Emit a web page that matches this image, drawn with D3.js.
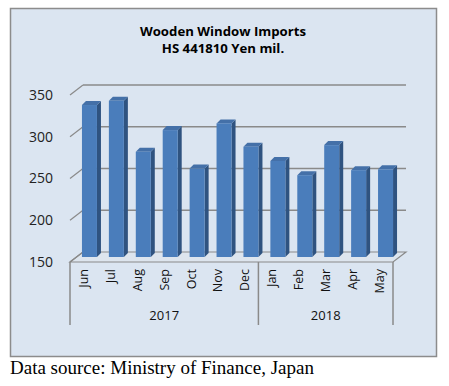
<!DOCTYPE html>
<html>
<head>
<meta charset="utf-8">
<script src="https://cdn.jsdelivr.net/npm/d3@7"></script>
<style>
  body { margin: 0; background: #fff; }
  text { font-family: "Open Sans", "Liberation Sans", sans-serif; }
</style>
</head>
<body>
<div id="chart"></div>
<script>
let months = ["Jun","Jul","Aug","Sep","Oct","Nov","Dec","Jan","Feb","Mar","Apr","May"];
let years = ["2017", "2018"];
let yearOfMonth = [0,0,0,0,0,0,0,1,1,1,1,1];
let values = [332, 337, 276, 302, 256, 310, 282, 265, 248, 284, 254, 255];
let yTicks = [150, 200, 250, 300, 350];

let svg = d3.select("#chart")
    .append("svg")
    .attr("width", 449)
    .attr("height", 386);

// chart area
svg.append("rect")
    .attr("x", 10.5).attr("y", 8.5)
    .attr("width", 426).attr("height", 348)
    .attr("fill", "#dbe5f1")
    .attr("stroke", "#8c8c8c")
    .attr("stroke-width", 1.5);

svg.append("text")
    .attr("x", 223).attr("y", 36)
    .attr("text-anchor", "middle")
    .attr("font-size", 13.2).attr("font-weight", "bold")
    .text("Wooden Window Imports");
svg.append("text")
    .attr("x", 223).attr("y", 53)
    .attr("text-anchor", "middle")
    .attr("font-size", 13.2).attr("font-weight", "bold")
    .text("HS 441810 Yen mil.");

let x = d3.scaleBand()
    .domain(months)
    .range([70, 393]);

let y = d3.scaleLinear()
    .domain([150, 350])
    .range([262, 95]);

// depth of the 3d box
let dx = 13, dy = -10;
let gridColor = "#8a8a8a";

// floor
svg.append("path")
    .attr("d", `M70,262 L393,262 L${393+dx},${262+dy} L${70+dx},${262+dy} Z`)
    .attr("fill", "#dde5ee")
    .attr("stroke", gridColor)
    .attr("stroke-width", 1.2);

// back wall gridlines + little left wall ticks
yTicks.forEach(t => {
    if (t > 150) {
        svg.append("line")
            .attr("x1", 70 + dx).attr("y1", y(t) + dy)
            .attr("x2", 393 + dx).attr("y2", y(t) + dy)
            .attr("stroke", gridColor)
            .attr("stroke-width", 1.5);
    }
    svg.append("line")
        .attr("x1", 70).attr("y1", y(t))
        .attr("x2", 70 + dx).attr("y2", y(t) + dy)
        .attr("stroke", gridColor)
        .attr("stroke-width", 1.2);
    svg.append("text")
        .attr("x", 53).attr("y", y(t))
        .attr("dy", "0.35em")
        .attr("text-anchor", "end")
        .attr("font-size", 14)
        .attr("fill", "#222")
        .text(t);
});

// bars
let barW = 15, sideDx = 4, sideDy = -4;
let bx = d => x(d) + x.bandwidth() / 2 - barW / 2 + 6;
let base = y(150) - 5;

let bars = svg.append("g").selectAll("g")
    .data(values)
    .enter()
    .append("g");

// side face
bars.append("path")
    .attr("d", (d, i) => {
        let x0 = bx(months[i]) + barW, top = y(d) - 5;
        return `M${x0},${base} L${x0},${top} L${x0+sideDx},${top+sideDy} L${x0+sideDx},${base+sideDy} Z`;
    })
    .attr("fill", "#2f5380");

// top face
bars.append("path")
    .attr("d", (d, i) => {
        let x0 = bx(months[i]), top = y(d) - 5;
        return `M${x0},${top} L${x0+barW},${top} L${x0+barW+sideDx},${top+sideDy} L${x0+sideDx},${top+sideDy} Z`;
    })
    .attr("fill", "#4470a8");

// front face
bars.append("rect")
    .attr("x", (d, i) => bx(months[i]))
    .attr("y", d => y(d) - 5)
    .attr("width", barW)
    .attr("height", d => base - (y(d) - 5))
    .attr("fill", "#4a7dbb");

// category axis
let axisBottom = 325;
[70, x("Jan"), 393].forEach(xx => {
    svg.append("line")
        .attr("x1", xx).attr("y1", 262)
        .attr("x2", xx).attr("y2", axisBottom)
        .attr("stroke", gridColor)
        .attr("stroke-width", 1.5);
});

months.forEach(m => {
    let cx = x(m) + x.bandwidth() / 2;
    svg.append("text")
        .attr("transform", `translate(${cx},269) rotate(-90)`)
        .attr("text-anchor", "end")
        .attr("dy", "0.35em")
        .attr("font-size", 12.5)
        .attr("fill", "#111")
        .text(m);
});

years.forEach((yr, k) => {
    let idx = months.filter((m, i) => yearOfMonth[i] === k);
    let x0 = x(idx[0]), x1 = x(idx[idx.length - 1]) + x.bandwidth();
    svg.append("text")
        .attr("x", (x0 + x1) / 2).attr("y", 320)
        .attr("text-anchor", "middle")
        .attr("font-size", 13)
        .attr("fill", "#111")
        .text(yr);
});

svg.append("text")
    .attr("x", 10).attr("y", 374)
    .style("font-family", "'Liberation Serif', 'Times New Roman', serif")
    .attr("font-size", 19)
    .text("Data source: Ministry of Finance, Japan");
</script>
</body>
</html>
